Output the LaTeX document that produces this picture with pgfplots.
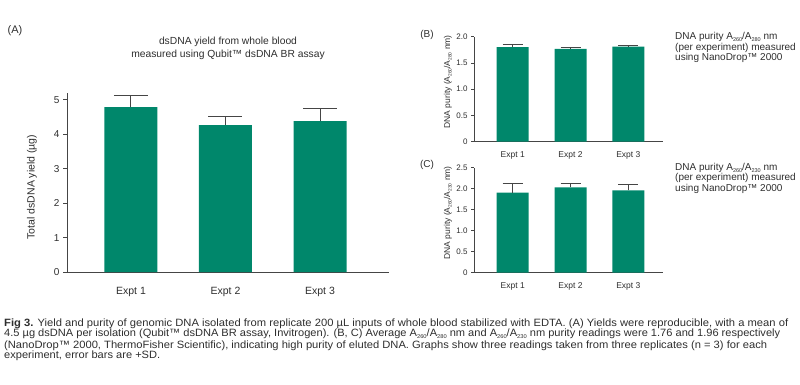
\documentclass[border=0pt]{standalone}
\usepackage{fontspec}
\setmainfont{Liberation Sans}
\usepackage{graphicx}
\usepackage{pgfplots}
\pgfplotsset{compat=1.18}
\definecolor{barc}{HTML}{00876B}
\definecolor{axc}{HTML}{454545}
\definecolor{txt}{HTML}{2E2E2E}
\newcommand\sub[2][5.5]{\raisebox{-0.35ex}{\fontsize{#1}{6}\selectfont #2}}
\pgfplotsset{
  panel/.style={
    scale only axis,
    axis x line*=bottom, axis y line*=left,
    axis line style={axc, line width=0.9pt, -},
    ymin=0,
    xtick={1,2,3}, xticklabels={Expt 1,Expt 2,Expt 3},
    x tick style={draw=none},
    y tick style={axc, line width=0.9pt},
    tick align=outside,
    major tick length=4pt,
    /pgf/number format/assume math mode=true,
    ticklabel style={text=txt},
    label style={text=txt},
    clip=false,
  },
  errs/.style={
    error bars/.cd, y dir=plus, y explicit,
    error mark=|,
    error bar style={axc, line width=1pt},
    error mark options={axc, line width=1pt, mark size=#1},
  },
}
\begin{document}
\begin{tikzpicture}
\useasboundingbox (0,0) rectangle (800pt,384pt);
% Panel A
\begin{axis}[panel,
  at={(67pt,112pt)}, anchor=origin,
  width=322pt, height=179pt,
  xmin=0.323, xmax=3.73, ymax=5.2,
  ytick={0,1,2,3,4,5},
  ticklabel style={font=\fontsize{10}{12}\selectfont},
  xticklabel style={font=\fontsize{10.5}{12}\selectfont, yshift=-8pt},
  ylabel={Total dsDNA yield (µg)},
  ylabel style={font=\fontsize{10.5}{12}\selectfont, at={(axis description cs:-0.109,0.475)}, anchor=center},
]
\addplot[ybar, fill=barc, draw=none, bar width=53pt, errs=17pt]
  coordinates {(1,4.79) +- (0,0.35) (2,4.27) +- (0,0.26) (3,4.38) +- (0,0.36)};
\end{axis}
% Panel B
\begin{axis}[panel,
  at={(474pt,242.3pt)}, anchor=origin,
  width=189pt, height=105pt,
  xmin=0.33, xmax=3.6, ymax=2.0,
  ytick={0,0.5,1,1.5,2}, yticklabels={0,0.5,1.0,1.5,2.0},
  major tick length=3pt,
  ticklabel style={font=\fontsize{8}{10}\selectfont},
  xticklabel style={font=\fontsize{8.5}{10}\selectfont, yshift=-3pt},
  ylabel={DNA purity (A\sub[4.8]{260}/A\sub[4.8]{280} nm)},
  ylabel style={font=\fontsize{8.5}{10}\selectfont, at={(axis description cs:-0.138,0.57)}, anchor=center},
]
\addplot[ybar, fill=barc, draw=none, bar width=32pt, errs=10pt]
  coordinates {(1,1.80) +- (0,0.055) (2,1.766) +- (0,0.034) (3,1.81) +- (0,0.03)};
\end{axis}
% Panel C
\begin{axis}[panel,
  at={(474pt,111.3pt)}, anchor=origin,
  width=189pt, height=105pt,
  xmin=0.33, xmax=3.6, ymax=2.5,
  ytick={0,0.5,1,1.5,2,2.5}, yticklabels={0,0.5,1.0,1.5,2.0,2.5},
  major tick length=3pt,
  ticklabel style={font=\fontsize{8}{10}\selectfont},
  xticklabel style={font=\fontsize{8.5}{10}\selectfont, yshift=-3pt},
  ylabel={DNA purity (A\sub[4.8]{260}/A\sub[4.8]{230} nm)},
  ylabel style={font=\fontsize{8.5}{10}\selectfont, at={(axis description cs:-0.138,0.57)}, anchor=center},
]
\addplot[ybar, fill=barc, draw=none, bar width=32pt, errs=10pt]
  coordinates {(1,1.905) +- (0,0.23) (2,2.03) +- (0,0.10) (3,1.96) +- (0,0.14)};
\end{axis}
% Labels and texts
\node[text=txt, font=\fontsize{11}{13}\selectfont, anchor=center] at (15pt,353pt) {(A)};
\node[text=txt, font=\fontsize{10}{12}\selectfont, anchor=center] at (427pt,349pt) {(B)};
\node[text=txt, font=\fontsize{10}{12}\selectfont, anchor=center] at (427pt,219pt) {(C)};
\node[text=txt, font=\fontsize{10.3}{13.3}\selectfont, align=center, anchor=center] at (228pt,335.7pt)
  {dsDNA yield from whole blood\\measured using Qubit™ dsDNA BR assay};
\node[text=txt, font=\fontsize{10}{10.5}\selectfont, align=left, anchor=north west, inner sep=0pt] at (675pt,351.5pt)
  {DNA purity A\sub{260}/A\sub{280} nm\\(per experiment) measured\\using NanoDrop™ 2000};
\node[text=txt, font=\fontsize{10}{10.5}\selectfont, align=left, anchor=north west, inner sep=0pt] at (675pt,221pt)
  {DNA purity A\sub{260}/A\sub{230} nm\\(per experiment) measured\\using NanoDrop™ 2000};
% Caption
\begin{scope}[every node/.style={text=txt, font=\fontsize{10.6}{11}\selectfont, anchor=base west, inner sep=0pt}]
\node at (4pt,58pt) {\resizebox{784pt}{\height}{\textbf{Fig 3.} Yield and purity of genomic DNA isolated from replicate 200 µL inputs of whole blood stabilized with EDTA. (A) Yields were reproducible, with a mean of}};
\node at (4pt,47.3pt) {\resizebox{776pt}{\height}{4.5 µg dsDNA per isolation (Qubit™ dsDNA BR assay, Invitrogen). (B, C) Average A\sub{260}/A\sub{280} nm and A\sub{260}/A\sub{230} nm purity readings were 1.76 and 1.96 respectively}};
\node at (4pt,35.7pt) {\resizebox{763pt}{\height}{(NanoDrop™ 2000, ThermoFisher Scientific), indicating high purity of eluted DNA. Graphs show three readings taken from three replicates (n = 3) for each}};
\node at (4pt,25.7pt) {\resizebox{156pt}{\height}{experiment, error bars are +SD.}};
\end{scope}
\end{tikzpicture}
\end{document}
